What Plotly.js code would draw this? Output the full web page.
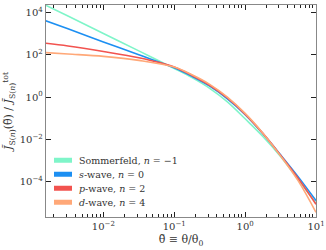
<!DOCTYPE html>
<html><head><meta charset="utf-8">
<script src="https://cdn.plot.ly/plotly-3.0.1.min.js"></script>
<style>html,body{margin:0;padding:0;background:#fff}#chart{width:326px;height:250px}</style>
</head><body><div id="chart"></div>
<script>
// theta-tilde sample positions
const theta = [0.0015, 0.00316, 0.01, 0.0316, 0.1, 0.178, 0.316, 0.562, 1, 1.78, 3.16, 5.62, 10];
// series values
const sommerfeld = [2.2e4, 6.6e3, 1.0e3, 151, 22.4, 8.3, 2.6, 0.60, 0.095, 0.014, 1.6e-3, 1.3e-4, 1.0e-5];
const swave      = [4.1e3, 1.66e3, 400, 98, 24, 9.5, 3.3, 0.83, 0.15, 0.019, 1.9e-3, 1.74e-4, 1.32e-5];
const pwave      = [347, 257, 141, 71, 26.3, 10.5, 3.63, 0.91, 0.158, 0.0195, 1.82e-3, 1.45e-4, 8.9e-6];
const dwave      = [126, 107, 83, 54, 26.3, 11.2, 4.0, 1.0, 0.17, 0.020, 1.7e-3, 1.12e-4, 3.7e-6];
const names = ["Sommerfeld, <i>n</i> = \u22121", "<i>s</i>-wave, <i>n</i> = 0", "<i>p</i>-wave, <i>n</i> = 2", "<i>d</i>-wave, <i>n</i> = 4"];
const colors = ["#7ff5c9", "#1c8ff2", "#f2534f", "#ffa878"];
const series = [sommerfeld, swave, pwave, dwave];
const xTickVals = [0.01, 0.1, 1, 10];
const xTickText = ["10<sup>\u22122</sup>", "10<sup>\u22121</sup>", "10<sup>0</sup>", "10<sup>1</sup>"];
const yTickVals = [1e-4, 1e-2, 1, 1e2, 1e4];
const yTickText = ["10<sup>\u22124</sup>", "10<sup>\u22122</sup>", "10<sup>0</sup>", "10<sup>2</sup>", "10<sup>4</sup>"];

const font = "DejaVu Serif";
const traces = [];
series.forEach((s, i) => {
  traces.push({x: theta, y: s, mode: "lines", line: {color: colors[i], width: 1.6, shape: "spline"}, showlegend: false, hoverinfo: "skip"});
});
series.forEach((s, i) => {
  traces.push({x: [null], y: [null], mode: "lines", name: names[i], line: {color: colors[i], width: 5}, showlegend: true});
});

const axisCommon = {
  type: "log", showgrid: false, zeroline: false, showline: true, linecolor: "#888", linewidth: 1.2,
  mirror: "allticks", ticks: "inside", tickcolor: "#222", ticklen: 5, tickwidth: 1,
  tickfont: {family: font, size: 10, color: "#333"}
};
const layout = {
  width: 326, height: 250,
  margin: {l: 46, r: 10, t: 5, b: 33},
  paper_bgcolor: "#fff", plot_bgcolor: "#fff",
  showlegend: true,
  legend: {x: 0.0, y: 0.31, xanchor: "left", yanchor: "top", bgcolor: "rgba(255,255,255,0)",
           font: {family: font, size: 9.5, color: "#333"}, tracegroupgap: 0, itemwidth: 30},
  xaxis: Object.assign({}, axisCommon, {
    range: [-2.81, 1.0], tickvals: xTickVals, ticktext: xTickText,
    minor: {ticks: "inside", ticklen: 3, tickcolor: "#222", dtick: "D1", showgrid: false},
    title: {text: "\u03B8\u0303 \u2261 \u03B8/\u03B8<sub>0</sub>", font: {family: font, size: 11, color: "#333"}, standoff: 4}
  }),
  yaxis: Object.assign({}, axisCommon, {
    range: [-5.65, 4.34], tickvals: yTickVals, ticktext: yTickText,
    title: {text: "<i>J\u0303</i><sub>S(<i>n</i>)</sub>(\u03B8\u0303) / <i>J\u0303</i><sub>S(<i>n</i>)</sub><sup>tot</sup>", font: {family: font, size: 11, color: "#333"}, standoff: 4}
  })
};
Plotly.newPlot("chart", traces, layout, {staticPlot: true, displayModeBar: false}).then(gd => {
  // compact the legend rows and shorten the legend swatches
  const items = gd.querySelectorAll(".legend .traces");
  items.forEach((g, i) => {
    g.setAttribute("transform", "translate(0," + (9 + i * 14) + ")");
    g.querySelectorAll(".legendlines path").forEach(p => p.setAttribute("d", "M8,0h18"));
    const t = g.querySelector("text.legendtext");
    if (t) t.setAttribute("x", "33");
  });
});
</script></body></html>
